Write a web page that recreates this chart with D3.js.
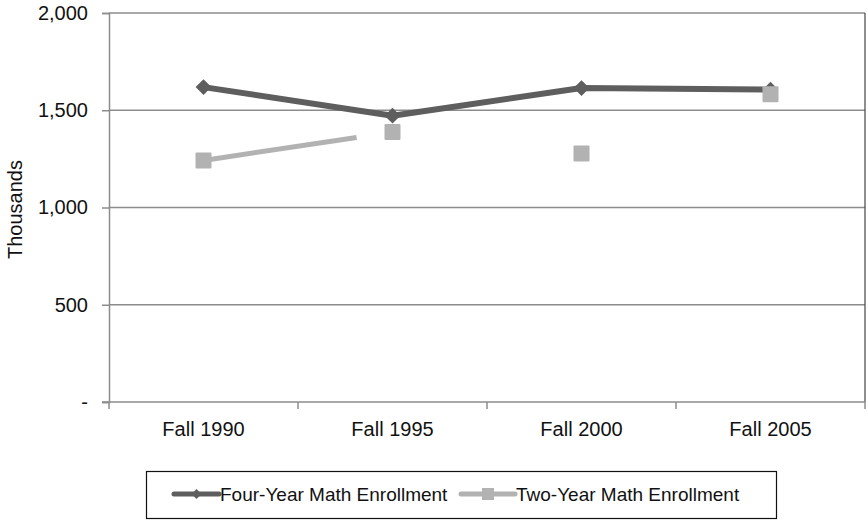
<!DOCTYPE html>
<html>
<head>
<meta charset="utf-8">
<script src="https://cdn.jsdelivr.net/npm/d3@7/dist/d3.min.js"></script>
<style>
  body { margin: 0; background: #fff; }
  svg { display: block; font-family: "Liberation Sans", Arial, Helvetica, sans-serif; }
</style>
</head>
<body>
<svg id="chart" width="868" height="525"></svg>
<script>
// Enrollment in mathematics courses, in thousands
const categories = ["Fall 1990", "Fall 1995", "Fall 2000", "Fall 2005"];
const fourYear = [1619, 1472, 1614, 1606];
const twoYear = [1242, 1388, 1278, 1582];
// Two-year connector: only the first segment is drawn, and only part of it
const twoYearSegmentShare = 0.81;
const yTicks = [0, 500, 1000, 1500, 2000];
const seriesNames = ["Four-Year Math Enrollment", "Two-Year Math Enrollment"];

const svg = d3.select("#chart");
const m = { left: 109, right: 865, top: 13, bottom: 402 };
const FONT = "'Liberation Sans', Arial, sans-serif";

const x = d3.scaleBand().domain(categories).range([m.left, m.right]);
const y = d3.scaleLinear().domain([0, 2000]).range([m.bottom, m.top]);
const cx = d => x(d) + x.bandwidth() / 2;

const fmt = v => v === 0 ? "-" : d3.format(",")(v);

// gridlines
svg.append("g").selectAll("line").data(yTicks.filter(t => t > 0)).join("line")
  .attr("x1", m.left).attr("x2", m.right)
  .attr("y1", d => y(d)).attr("y2", d => y(d))
  .attr("stroke", "#8c8c8c").attr("stroke-width", 1.5);

// right frame edge
svg.append("line").attr("x1", m.right).attr("x2", m.right)
  .attr("y1", m.top).attr("y2", m.bottom)
  .attr("stroke", "#444").attr("stroke-width", 1.2);

// y axis
const yAxis = svg.append("g").attr("transform", `translate(${m.left},0)`)
  .call(d3.axisLeft(y).tickValues(yTicks).tickFormat(fmt).tickSize(7).tickPadding(14));
yAxis.attr("font-size", null).attr("font-family", null);
yAxis.select(".domain").attr("stroke", "#8c8c8c").attr("stroke-width", 1.5);
yAxis.selectAll(".tick line").attr("stroke", "#8c8c8c").attr("stroke-width", 1.5);
yAxis.selectAll("text").style("font-size", "20px").attr("fill", "#111")
  .style("font-family", FONT);

// x axis
const xAxis = svg.append("g").attr("transform", `translate(0,${m.bottom})`)
  .call(d3.axisBottom(x).tickSize(0).tickPadding(20));
xAxis.attr("font-size", null).attr("font-family", null);
xAxis.select(".domain").attr("stroke", "#8c8c8c").attr("stroke-width", 1.5)
  .attr("d", `M${m.left - 7},0H${m.right}`);
xAxis.selectAll("text").style("font-size", "20px").attr("fill", "#111")
  .style("font-family", FONT);
// category boundary ticks
const bounds = categories.map(c => x(c)).concat([m.right]);
xAxis.append("g").selectAll("line").data(bounds).join("line")
  .attr("x1", d => d).attr("x2", d => d).attr("y1", 0).attr("y2", 7)
  .attr("stroke", "#8c8c8c").attr("stroke-width", 1.5);

// y axis title
svg.append("text").attr("transform", `translate(22,${(m.top + m.bottom) / 2 + 2}) rotate(-90)`)
  .attr("text-anchor", "middle").style("font-size", "20px").attr("fill", "#111")
  .text("Thousands");

const darkC = "#5e5e5e", lightC = "#b2b2b2";
const line = d3.line().x((d, i) => cx(categories[i])).y(d => y(d));

// two-year partial connector
const seg = svg.append("path").datum(twoYear.slice(0, 2))
  .attr("d", line).attr("fill", "none").attr("stroke", lightC).attr("stroke-width", 5);
const segLen = seg.node().getTotalLength();
seg.attr("stroke-dasharray", `${segLen * twoYearSegmentShare} ${segLen}`);

// four-year line
svg.append("path").datum(fourYear).attr("d", line)
  .attr("fill", "none").attr("stroke", darkC).attr("stroke-width", 6)
  .attr("stroke-linejoin", "round");

// markers
svg.append("g").selectAll("path").data(fourYear).join("path")
  .attr("d", d3.symbol().type(d3.symbolSquare).size(125))
  .attr("transform", (d, i) => `translate(${cx(categories[i])},${y(d)}) rotate(45)`)
  .attr("fill", darkC);

svg.append("g").selectAll("rect").data(twoYear).join("rect")
  .attr("x", (d, i) => cx(categories[i]) - 8).attr("y", d => y(d) - 8)
  .attr("width", 16).attr("height", 16).attr("rx", 1)
  .attr("fill", lightC);

// legend
const lg = svg.append("g");
lg.append("rect").attr("x", 146.5).attr("y", 471.5).attr("width", 630).attr("height", 47)
  .attr("fill", "#fff").attr("stroke", "#111").attr("stroke-width", 1.2);
const items = [
  { name: seriesNames[0], color: darkC, x0: 174, x1: 219, shape: "diamond" },
  { name: seriesNames[1], color: lightC, x0: 461, x1: 515, shape: "square" }
];
const ly = 494;
items.forEach(it => {
  lg.append("line").attr("x1", it.x0).attr("x2", it.x1).attr("y1", ly).attr("y2", ly)
    .attr("stroke", it.color).attr("stroke-width", 5).attr("stroke-linecap", "round");
  const mx = (it.x0 + it.x1) / 2;
  if (it.shape === "diamond") {
    lg.append("path").attr("d", d3.symbol().type(d3.symbolSquare).size(50))
      .attr("transform", `translate(${mx},${ly}) rotate(45)`).attr("fill", it.color);
  } else {
    lg.append("rect").attr("x", mx - 6).attr("y", ly - 6).attr("width", 12).attr("height", 12)
      .attr("fill", it.color);
  }
  lg.append("text").attr("x", it.x1 + 1).attr("y", ly + 7).style("font-size", "19px").attr("fill", "#111")
    .text(it.name);
});
</script>
</body>
</html>
